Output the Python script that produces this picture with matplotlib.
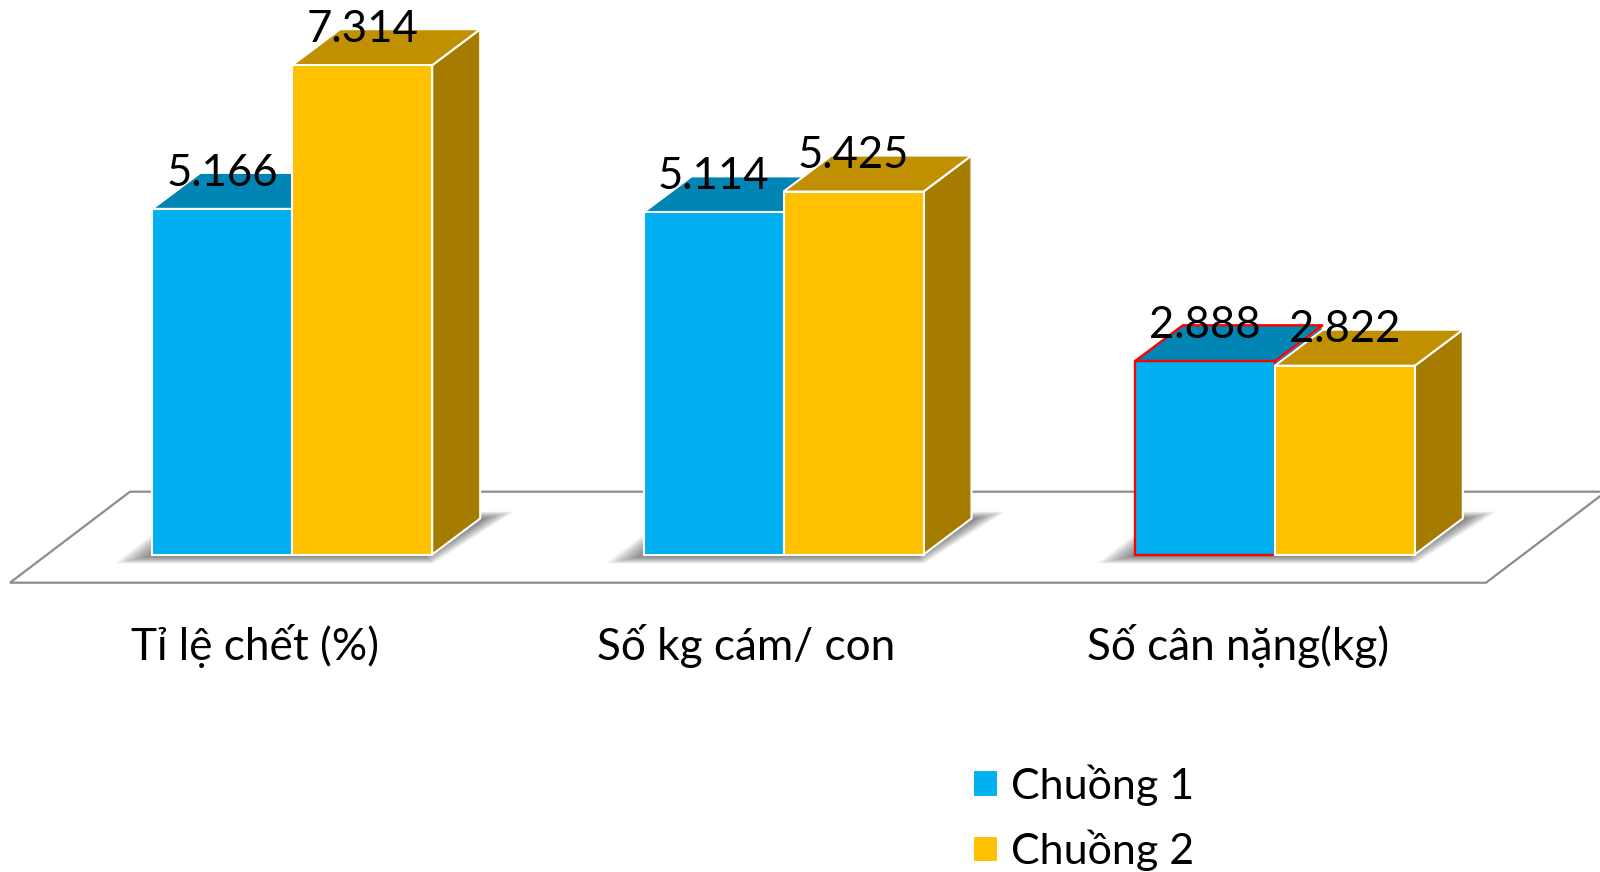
import matplotlib
matplotlib.use("Agg")
import matplotlib.pyplot as plt
from matplotlib.patches import Polygon

plt.rcParams['font.family'] = ['Lato', 'Noto Sans', 'DejaVu Sans']

# Chart data
categories = ["Tỉ lệ chết (%)", "Số kg cám/ con", "Số cân nặng(kg)"]
chuong_1 = [5.166, 5.114, 2.888]
chuong_2 = [7.314, 5.425, 2.822]
series_names = ["Chuồng 1", "Chuồng 2"]

# Colours of the three visible faces of each box
blue = {"front": "#00B0F0", "top": "#0085B5", "side": "#00729C"}
gold = {"front": "#FFC000", "top": "#C09000", "side": "#A67C00"}
floor_color = "#8C8C8C"

# Scale of the axes: one category = 491.3 px, one value unit = 66.9 px
W, H = 1600, 872
sx = 1 / 491.3
sy = 1 / 66.9
x0_px, y0_px = 292.2, 554.5

bar_w = 140 * sx
depth_x = 48 * sx
depth_y = 36 * sy


def box_faces(ax, x, value, colors, edge="white", lw=1.5, z=3):
    # top and side of one box, the front comes from ax.bar
    left, right = x, x + bar_w
    side = [(right, 0), (right + depth_x, depth_y),
            (right + depth_x, value + depth_y), (right, value)]
    top = [(left, value), (right, value),
           (right + depth_x, value + depth_y), (left + depth_x, value + depth_y)]
    ax.add_patch(Polygon(side, closed=True, fc=colors["side"], ec="white", lw=lw, zorder=z))
    ax.add_patch(Polygon(top, closed=True, fc=colors["top"], ec=edge, lw=lw, zorder=z))


def shadow(ax, xc):
    # soft shadow on the floor, built from stacked translucent layers
    outer = [(-178, -9), (141, -9), (222, 43), (-110, 43)]
    inner = [(-142, -2), (133, -2), (192, 36), (-100, 36)]
    n = 16
    for i in range(n):
        t = i / (n - 1)
        pts = [(xc + (a + (c - a) * t) * sx, (b + (d - b) * t) * sy)
               for (a, b), (c, d) in zip(outer, inner)]
        ax.add_patch(Polygon(pts, closed=True, fc="black", ec="none", alpha=0.035, zorder=2))


fig = plt.figure(figsize=(W / 100, H / 100), dpi=100)
ax = fig.add_axes([0, 0, 1, 1])
ax.set_xlim(-x0_px * sx, (W - x0_px) * sx)
ax.set_ylim(-(H - y0_px) * sy, y0_px * sy)
ax.axis("off")

# Floor of the 3D chart
floor = [((10 - x0_px) * sx, -28.2 * sy), ((1486 - x0_px) * sx, -28.2 * sy),
         ((1606 - x0_px) * sx, 62.8 * sy), ((130 - x0_px) * sx, 62.8 * sy)]
ax.add_patch(Polygon(floor, closed=True, fc="white", ec=floor_color, lw=1.6, zorder=1))

xs = list(range(len(categories)))
for x in xs:
    shadow(ax, x)

for i, x in enumerate(xs):
    # first series: the third box has a red outline
    outlined = i == 2
    edge = "#FF0000" if outlined else "white"
    lw = 1.7 if outlined else 1.5
    box_faces(ax, x - bar_w, chuong_1[i], blue, edge=edge, lw=lw, z=3)
    ax.bar(x - bar_w, chuong_1[i], bar_w, align="edge", color=blue["front"],
           edgecolor=edge, linewidth=lw, zorder=3.1,
           label=series_names[0] if i == 0 else None)
    box_faces(ax, x, chuong_2[i], gold, z=3.2)
    ax.bar(x, chuong_2[i], bar_w, align="edge", color=gold["front"],
           edgecolor="white", linewidth=1.5, zorder=3.3,
           label=series_names[1] if i == 0 else None)

    # value labels
    for xc, v in [(x - bar_w / 2, chuong_1[i]), (x + bar_w / 2, chuong_2[i])]:
        ax.annotate(f"{v:.3f}", (xc, v), xytext=(0, 16.8), textcoords="offset points",
                    ha="center", va="baseline", fontsize=31.5, color="black", zorder=5)

    # category labels
    ax.text(x - 37 * sx, -91 * sy, categories[i], ha="center", va="center",
            fontsize=31.8, color="black", zorder=5)

handles, labels = ax.get_legend_handles_labels()
ax.legend(handles, labels, loc="upper left", bbox_to_anchor=(973 / W, 1 - 764 / H),
          frameon=False, fontsize=31, handlelength=0.58, handleheight=0.58,
          handletextpad=0.30, labelspacing=0.56, borderpad=0, borderaxespad=0)

fig.savefig("out.png", dpi=100, facecolor="white")
